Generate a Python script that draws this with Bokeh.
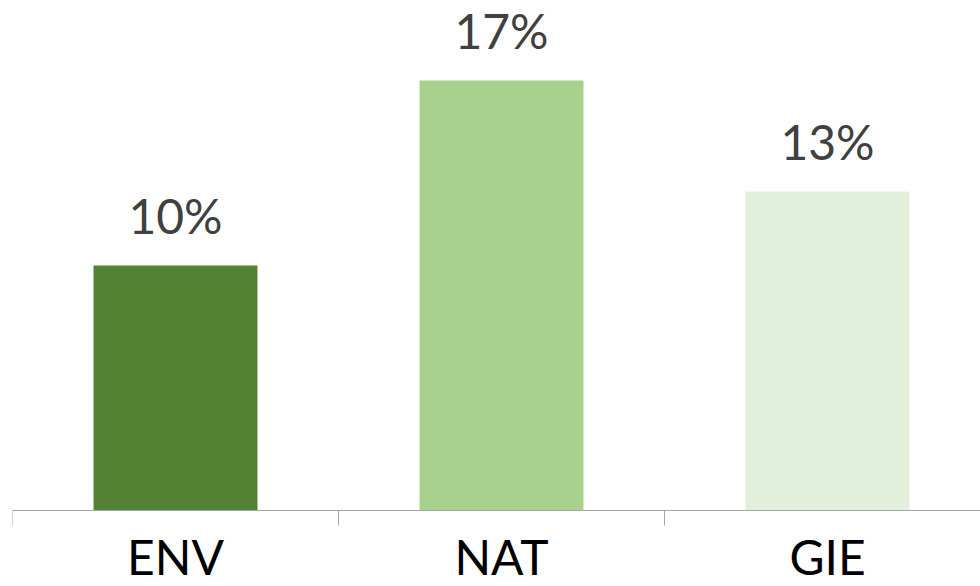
from bokeh.plotting import figure
from bokeh.models import ColumnDataSource, Range1d, FixedTicker
from bokeh.core.properties import value
from bokeh.embed import file_html
from bokeh.resources import INLINE

# data
categories = ["ENV", "NAT", "GIE"]
shares = [0.098, 0.172, 0.1276]
colors = ["#548235", "#A9D18E", "#E2EFDA"]
labels = [f"{round(v * 100)}%" for v in shares]

centers = [i + 0.5 for i in range(len(categories))]
bounds = list(range(len(categories) + 1))
source = ColumnDataSource(dict(x=centers, top=shares, color=colors, label=labels))

FONT = "Lato"
W, H = 980, 586
LEFT = 12
CAT_PX = 326.0      # pixels per category
PX_PER_UNIT = 2500  # pixels per 1.0 (25 px per percentage point)
ZERO_PX = 510       # zero line, pixels from top

x_end = (W - LEFT) / CAT_PX
y_end = ZERO_PX / PX_PER_UNIT
y_start = -(H - ZERO_PX) / PX_PER_UNIT

p = figure(width=W, height=H, output_backend="svg", toolbar_location=None,
           x_range=Range1d(0, x_end), y_range=Range1d(y_start, y_end),
           min_border_left=LEFT, min_border_right=0, min_border_top=0, min_border_bottom=0)
p.outline_line_color = None
p.xgrid.visible = False
p.ygrid.visible = False
p.yaxis.visible = False
p.background_fill_color = "white"
p.border_fill_color = "white"

p.vbar(x="x", top="top", bottom=0, width=0.503, fill_color="color", line_color=None, source=source)
p.text(x="x", y="top", text="label", source=source, text_align="center",
       text_baseline="alphabetic", y_offset=-50, text_font=value(FONT),
       text_font_size="48px", text_color="#404040")

ax = p.xaxis[0]
ax.fixed_location = 0
ax.ticker = FixedTicker(ticks=centers, minor_ticks=bounds)
ax.major_label_overrides = {c: name for c, name in zip(centers, categories)}
ax.major_tick_in = 0
ax.major_tick_out = 0
ax.minor_tick_in = 0
ax.minor_tick_out = 15
ax.minor_tick_line_color = "#A6A6A6"
ax.minor_tick_line_width = 1
ax.axis_line_color = "#A6A6A6"
ax.axis_line_width = 1
ax.major_label_standoff = 2
ax.major_label_text_font = FONT
ax.major_label_text_font_size = "48px"
ax.major_label_text_color = "#000000"

open("out.html", "w").write(file_html(p, INLINE))
